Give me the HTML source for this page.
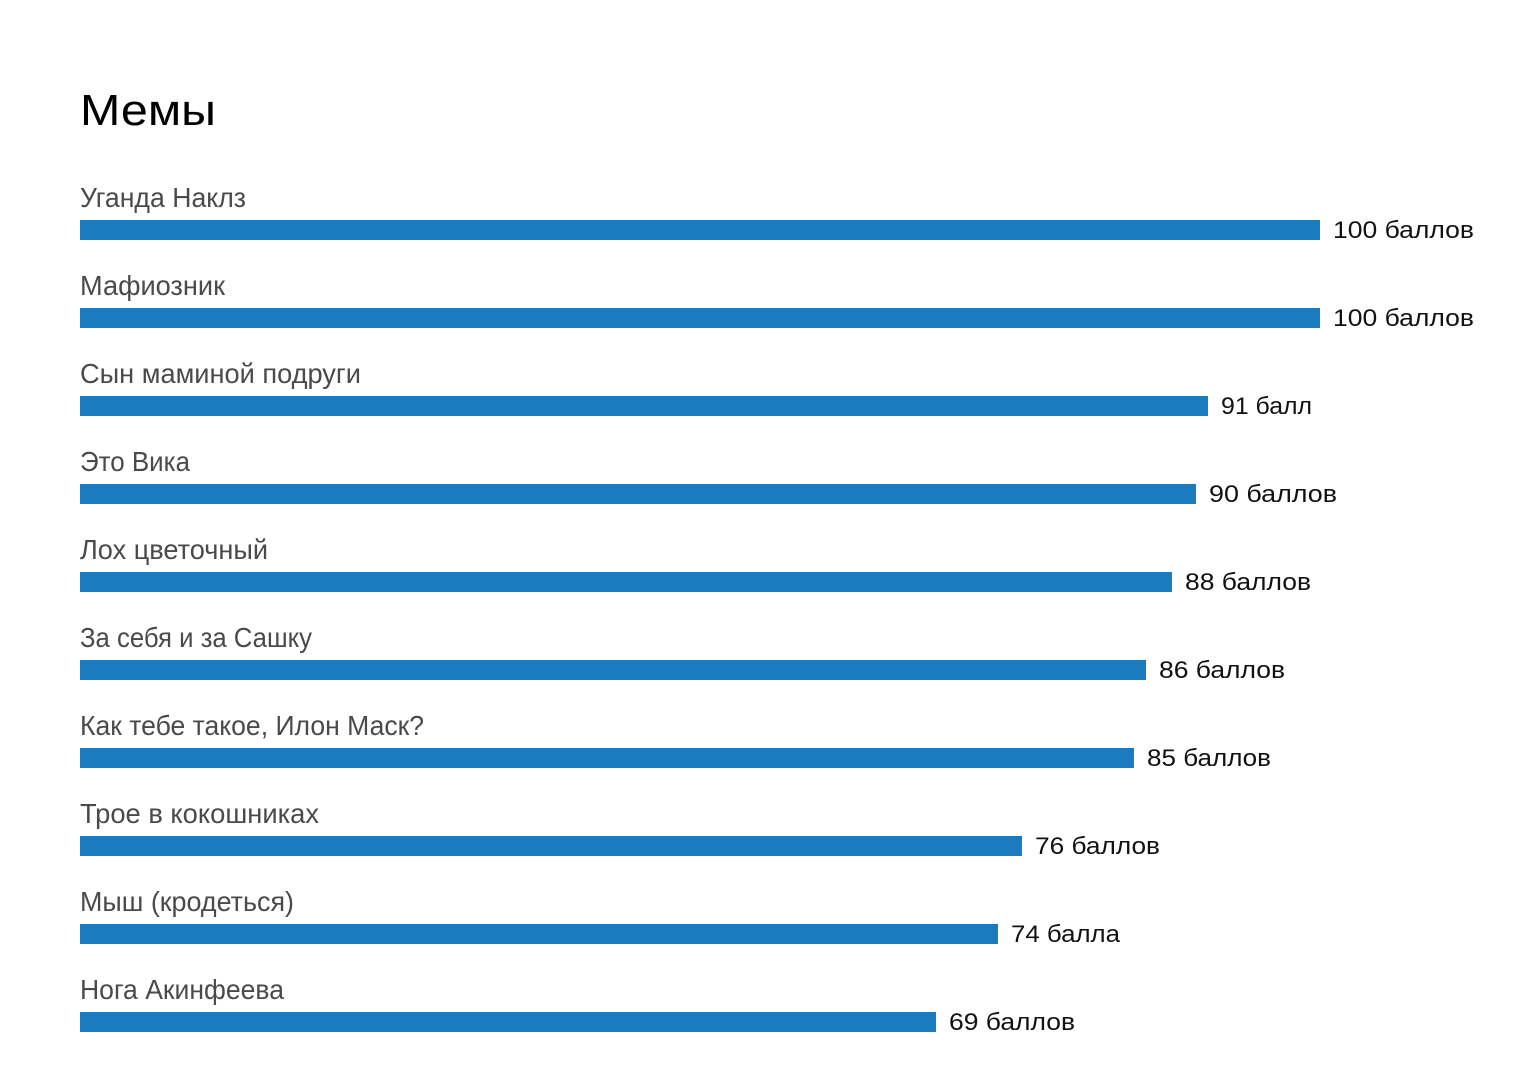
<!DOCTYPE html>
<html><head><meta charset="utf-8"><style>
html,body{margin:0;padding:0;background:#fff;}
svg{display:block;}
.t{font-family:"Liberation Sans","DejaVu Sans",sans-serif;}
.lab{font-size:28px;fill:#4a4a4a;}
.val{font-size:24px;fill:#111;}
</style></head><body>
<svg width="1540" height="1092" xmlns="http://www.w3.org/2000/svg">
<rect width="1540" height="1092" fill="#fff"/>
<text class="t" x="80" y="125" font-size="44" fill="#000" textLength="136" lengthAdjust="spacingAndGlyphs">Мемы</text>
<g fill="#1b7bbf">
<rect x="80" y="220" width="1240" height="20"/>
<rect x="80" y="308" width="1240" height="20"/>
<rect x="80" y="396" width="1128" height="20"/>
<rect x="80" y="484" width="1116" height="20"/>
<rect x="80" y="572" width="1092" height="20"/>
<rect x="80" y="660" width="1066" height="20"/>
<rect x="80" y="748" width="1054" height="20"/>
<rect x="80" y="836" width="942" height="20"/>
<rect x="80" y="924" width="918" height="20"/>
<rect x="80" y="1012" width="856" height="20"/>
</g>
<g class="t lab">
<text x="80" y="207" textLength="166" lengthAdjust="spacingAndGlyphs">Уганда Наклз</text>
<text x="80" y="295" textLength="145" lengthAdjust="spacingAndGlyphs">Мафиозник</text>
<text x="80" y="383" textLength="281" lengthAdjust="spacingAndGlyphs">Сын маминой подруги</text>
<text x="80" y="471" textLength="110" lengthAdjust="spacingAndGlyphs">Это Вика</text>
<text x="80" y="559" textLength="188" lengthAdjust="spacingAndGlyphs">Лох цветочный</text>
<text x="80" y="647" textLength="232" lengthAdjust="spacingAndGlyphs">За себя и за Сашку</text>
<text x="80" y="735" textLength="344" lengthAdjust="spacingAndGlyphs">Как тебе такое, Илон Маск?</text>
<text x="80" y="823" textLength="239" lengthAdjust="spacingAndGlyphs">Трое в кокошниках</text>
<text x="80" y="911" textLength="214" lengthAdjust="spacingAndGlyphs">Мыш (кродеться)</text>
<text x="80" y="999" textLength="204" lengthAdjust="spacingAndGlyphs">Нога Акинфеева</text>
</g>
<g class="t val">
<text x="1333" y="238" textLength="141" lengthAdjust="spacingAndGlyphs">100 баллов</text>
<text x="1333" y="326" textLength="141" lengthAdjust="spacingAndGlyphs">100 баллов</text>
<text x="1221" y="414" textLength="91" lengthAdjust="spacingAndGlyphs">91 балл</text>
<text x="1209" y="502" textLength="128" lengthAdjust="spacingAndGlyphs">90 баллов</text>
<text x="1185" y="590" textLength="126" lengthAdjust="spacingAndGlyphs">88 баллов</text>
<text x="1159" y="678" textLength="126" lengthAdjust="spacingAndGlyphs">86 баллов</text>
<text x="1147" y="766" textLength="124" lengthAdjust="spacingAndGlyphs">85 баллов</text>
<text x="1035" y="854" textLength="125" lengthAdjust="spacingAndGlyphs">76 баллов</text>
<text x="1011" y="942" textLength="109" lengthAdjust="spacingAndGlyphs">74 балла</text>
<text x="949" y="1030" textLength="126" lengthAdjust="spacingAndGlyphs">69 баллов</text>
</g>
</svg>
</body></html>
